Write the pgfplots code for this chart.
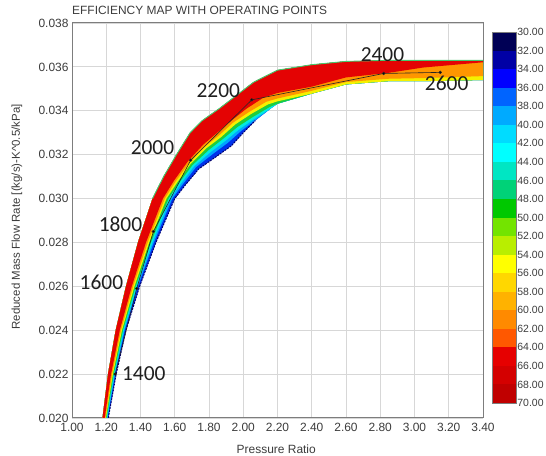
\documentclass[border=0pt]{standalone}
\usepackage{fontspec}
\setmainfont{Liberation Sans}
\newfontfamily\carlito{Carlito}
\usepackage{pgfplots}
\pgfplotsset{compat=1.18}
\usepgfplotslibrary{fillbetween}
\usepackage{pgfplotstable}

\definecolor{gridgray}{RGB}{215,215,215}
\definecolor{framegray}{RGB}{125,125,125}
\definecolor{tickgray}{RGB}{60,60,60}
\definecolor{bBlue}{RGB}{0,50,235}
\definecolor{bNavy}{RGB}{0,0,110}
\definecolor{bLB}{RGB}{0,165,255}
\definecolor{bCy}{RGB}{0,235,225}
\definecolor{bGr}{RGB}{30,205,60}
\definecolor{bYe}{RGB}{245,240,0}
\definecolor{bOr}{RGB}{255,150,0}
\definecolor{bRed}{RGB}{228,3,3}
\definecolor{bFringe}{RGB}{70,200,110}

\definecolor{c1}{RGB}{0,0,85}
\definecolor{c2}{RGB}{0,0,165}
\definecolor{c3}{RGB}{0,0,255}
\definecolor{c4}{RGB}{0,100,255}
\definecolor{c5}{RGB}{0,170,255}
\definecolor{c6}{RGB}{0,220,255}
\definecolor{c7}{RGB}{0,255,255}
\definecolor{c8}{RGB}{0,230,195}
\definecolor{c9}{RGB}{0,210,120}
\definecolor{c10}{RGB}{0,200,0}
\definecolor{c11}{RGB}{115,228,0}
\definecolor{c12}{RGB}{185,238,0}
\definecolor{c13}{RGB}{255,255,0}
\definecolor{c14}{RGB}{255,215,0}
\definecolor{c15}{RGB}{255,178,0}
\definecolor{c16}{RGB}{255,138,0}
\definecolor{c17}{RGB}{255,88,0}
\definecolor{c18}{RGB}{230,0,0}
\definecolor{c19}{RGB}{212,0,0}
\definecolor{c20}{RGB}{192,0,0}

% upper (high-efficiency) edge of the map
\pgfplotstableread{
x y
1.178 0.0200
1.210 0.0220
1.255 0.0240
1.315 0.0260
1.385 0.0280
1.470 0.0300
1.535 0.0310
1.610 0.0320
1.690 0.0330
1.760 0.03355
1.860 0.0341
1.960 0.0347
2.060 0.0353
2.200 0.03585
2.400 0.0361
2.600 0.03625
2.850 0.0363
3.050 0.0363
3.400 0.0363
}\Utab
\pgfplotstableread{
x y
1.470 0.0300
1.535 0.0310
1.610 0.0320
1.690 0.0330
1.760 0.03355
1.860 0.0341
1.960 0.0347
2.060 0.0353
2.200 0.03585
2.400 0.0361
2.600 0.03625
2.850 0.0363
3.050 0.0363
3.400 0.0363
}\UGtab
% lower edge of the map
\pgfplotstableread{
x y
1.212 0.0200
1.258 0.0220
1.315 0.0240
1.395 0.0260
1.490 0.0280
1.600 0.0300
1.660 0.0306
1.740 0.03135
1.840 0.0319
1.930 0.0324
2.000 0.0330
2.070 0.03355
2.160 0.0341
2.200 0.03432
2.400 0.03478
2.600 0.0352
2.850 0.03535
3.050 0.03535
3.400 0.0354
}\Ltab
\pgfplotstableread{
x y
1.212 0.0200
1.258 0.0220
1.315 0.0240
1.395 0.0260
1.490 0.0280
1.600 0.0300
1.660 0.0306
1.740 0.03135
1.840 0.0319
1.930 0.0324
2.000 0.0330
2.070 0.03355
}\LNtab
% contour: 64 %
\pgfplotstableread{
x y
1.191 0.0200
1.228 0.0220
1.279 0.0240
1.349 0.0260
1.432 0.0280
1.531 0.0300
1.595 0.03081
1.675 0.03168
1.765 0.03245
1.845 0.03298
1.930 0.03355
2.018 0.03409
2.118 0.03460
2.200 0.03481
2.400 0.03510
2.600 0.03552
2.850 0.03573
3.050 0.03597
3.400 0.03621
}\Bred
% contour: 58 %
\pgfplotstableread{
x y
1.195 0.0200
1.234 0.0220
1.286 0.0240
1.357 0.0260
1.442 0.0280
1.542 0.0300
1.605 0.03078
1.684 0.03163
1.776 0.03237
1.859 0.03288
1.941 0.03346
2.033 0.03394
2.134 0.03441
2.200 0.03456
2.400 0.03491
2.600 0.03531
2.850 0.03546
3.050 0.03549
3.400 0.03558
}\Bor
% contour: 54 %
\pgfplotstableread{
x y
1.198 0.0200
1.239 0.0220
1.292 0.0240
1.365 0.0260
1.451 0.0280
1.552 0.0300
1.615 0.03074
1.693 0.03158
1.786 0.03230
1.871 0.03280
1.952 0.03337
2.043 0.03384
2.144 0.03429
2.200 0.03443
2.400 0.03478
2.600 0.0352
2.850 0.03535
3.050 0.03535
3.400 0.0354
}\Bye
% contour: 46 %
\pgfplotstableread{
x y
1.202 0.0200
1.244 0.0220
1.298 0.0240
1.372 0.0260
1.461 0.0280
1.564 0.0300
1.625 0.03071
1.704 0.03153
1.798 0.03221
1.882 0.03272
1.966 0.03326
2.055 0.03371
2.154 0.03417
2.200 0.03432
2.400 0.03478
2.600 0.0352
2.850 0.03535
3.050 0.03535
3.400 0.0354
}\Bgr
% contour: 40 %
\pgfplotstableread{
x y
1.205 0.0200
1.248 0.0220
1.303 0.0240
1.379 0.0260
1.470 0.0280
1.575 0.0300
1.636 0.03068
1.714 0.03148
1.810 0.03212
1.896 0.03263
1.979 0.03317
2.063 0.03362
2.160 0.0341
2.200 0.03432
2.400 0.03478
2.600 0.0352
2.850 0.03535
3.050 0.03535
3.400 0.0354
}\Bcy
% contour: 36 %
\pgfplotstableread{
x y
1.208 0.0200
1.252 0.0220
1.308 0.0240
1.385 0.0260
1.478 0.0280
1.586 0.0300
1.646 0.03064
1.724 0.03143
1.822 0.03203
1.910 0.03254
1.989 0.03309
2.069 0.03356
2.160 0.0341
2.200 0.03432
2.400 0.03478
2.600 0.0352
2.850 0.03535
3.050 0.03535
3.400 0.0354
}\Blb
% operating points
\pgfplotstableread{
x y
1.252 0.0220
1.378 0.0259
1.475 0.0285
1.693 0.03175
2.050 0.0345
2.820 0.0357
3.150 0.03575
}\OPtab

\begin{document}
\begin{tikzpicture}
\begin{axis}[
  at={(72bp,38bp)}, anchor=south west,
  scale only axis, width=411bp, height=395bp,
  xmin=1, xmax=3.4, ymin=0.020, ymax=0.038,
  xtick={1.0,1.2,1.4,1.6,1.8,2.0,2.2,2.4,2.6,2.8,3.0,3.2,3.4},
  ytick={0.020,0.022,0.024,0.026,0.028,0.030,0.032,0.034,0.036,0.038},
  scaled x ticks=false, scaled y ticks=false,
  tick label style={font=\fontsize{12}{14}\selectfont, text=tickgray},
  xticklabel style={yshift=-1.5bp, /pgf/number format/.cd, fixed, fixed zerofill, precision=2},
  yticklabel style={/pgf/number format/.cd, fixed, fixed zerofill, precision=3},
  /pgf/number format/assume math mode=true,
  grid=major, major grid style={draw=gridgray, line width=0.8bp},
  major tick length=0pt,
  axis line style={draw=framegray, line width=1bp},
  title={EFFICIENCY MAP WITH OPERATING POINTS},
  title style={at={(0,1)}, anchor=base west, yshift=2.5bp, inner sep=0pt,
    font=\fontsize{12}{14}\selectfont, text=tickgray},
  xlabel={Pressure Ratio},
  xlabel style={at={(axis description cs:0.497,-0.0911)}, anchor=base, inner sep=0pt,
    font=\fontsize{12}{14}\selectfont, text=tickgray},
  ylabel={Reduced Mass Flow Rate [(kg/s)-K\textasciicircum 0.5/kPa]},
  ylabel style={at={(axis description cs:-0.1338,0.509)}, anchor=center, inner sep=0pt,
    font=\fontsize{11.5}{14}\selectfont, text=tickgray},
]
\addplot[draw=none, no markers, name path=U] table {\Utab};
\addplot[draw=none, no markers, name path=L] table {\Ltab};
\addplot[draw=none, no markers, name path=Blb] table {\Blb};
\addplot[draw=none, no markers, name path=Bcy] table {\Bcy};
\addplot[draw=none, no markers, name path=Bgr] table {\Bgr};
\addplot[draw=none, no markers, name path=Bye] table {\Bye};
\addplot[draw=none, no markers, name path=Bor] table {\Bor};
\addplot[draw=none, no markers, name path=Bred] table {\Bred};

\addplot[draw=none, fill=bBlue] fill between[of=U and L];
\addplot[draw=none, fill=bLB] fill between[of=U and Blb];
\addplot[draw=none, fill=bCy] fill between[of=U and Bcy];
\addplot[draw=none, fill=bGr] fill between[of=U and Bgr];
\addplot[draw=none, fill=bYe] fill between[of=U and Bye];
\addplot[draw=none, fill=bOr] fill between[of=U and Bor];
\addplot[draw=none, fill=bRed] fill between[of=U and Bred];

\addplot[bNavy, line width=1bp, dash pattern=on 2bp off 1bp, no markers] table {\LNtab};
\addplot[bFringe, line width=0.9bp, no markers] table {\UGtab};

\addplot[black!85, line width=0.6bp, mark=*, mark size=1.3bp, mark options={fill=black}] table {\OPtab};

\begin{scope}[every node/.style={font=\carlito\fontsize{21.5}{24}\selectfont, text=black!88, inner sep=0pt}]
\node at (axis cs:1.419,0.02200) {1400};
\node at (axis cs:1.172,0.02617) {1600};
\node at (axis cs:1.283,0.02883) {1800};
\node at (axis cs:1.470,0.03232) {2000};
\node at (axis cs:1.854,0.03493) {2200};
\node at (axis cs:2.813,0.03656) {2400};
\node at (axis cs:3.188,0.03526) {2600};
\end{scope}
\end{axis}

% colour scale
\begin{axis}[
  at={(492bp,53bp)}, anchor=south west,
  scale only axis, width=24bp, height=371bp,
  xmin=0, xmax=1, ymin=30, ymax=70, y dir=reverse,
  xtick=\empty, ytick={30,32,...,70},
  yticklabel pos=right,
  tick label style={font=\fontsize{10.5}{12}\selectfont, text=tickgray},
  yticklabel style={inner sep=1.2bp, /pgf/number format/.cd, fixed, fixed zerofill, precision=2},
  /pgf/number format/assume math mode=true,
  major tick length=0pt,
  axis line style={draw=framegray, line width=0.6bp},
  axis on top,
]
\addplot[draw=none, fill=c1] coordinates {(0,30) (1,30) (1,32) (0,32)} -- cycle;
\addplot[draw=none, fill=c2] coordinates {(0,32) (1,32) (1,34) (0,34)} -- cycle;
\addplot[draw=none, fill=c3] coordinates {(0,34) (1,34) (1,36) (0,36)} -- cycle;
\addplot[draw=none, fill=c4] coordinates {(0,36) (1,36) (1,38) (0,38)} -- cycle;
\addplot[draw=none, fill=c5] coordinates {(0,38) (1,38) (1,40) (0,40)} -- cycle;
\addplot[draw=none, fill=c6] coordinates {(0,40) (1,40) (1,42) (0,42)} -- cycle;
\addplot[draw=none, fill=c7] coordinates {(0,42) (1,42) (1,44) (0,44)} -- cycle;
\addplot[draw=none, fill=c8] coordinates {(0,44) (1,44) (1,46) (0,46)} -- cycle;
\addplot[draw=none, fill=c9] coordinates {(0,46) (1,46) (1,48) (0,48)} -- cycle;
\addplot[draw=none, fill=c10] coordinates {(0,48) (1,48) (1,50) (0,50)} -- cycle;
\addplot[draw=none, fill=c11] coordinates {(0,50) (1,50) (1,52) (0,52)} -- cycle;
\addplot[draw=none, fill=c12] coordinates {(0,52) (1,52) (1,54) (0,54)} -- cycle;
\addplot[draw=none, fill=c13] coordinates {(0,54) (1,54) (1,56) (0,56)} -- cycle;
\addplot[draw=none, fill=c14] coordinates {(0,56) (1,56) (1,58) (0,58)} -- cycle;
\addplot[draw=none, fill=c15] coordinates {(0,58) (1,58) (1,60) (0,60)} -- cycle;
\addplot[draw=none, fill=c16] coordinates {(0,60) (1,60) (1,62) (0,62)} -- cycle;
\addplot[draw=none, fill=c17] coordinates {(0,62) (1,62) (1,64) (0,64)} -- cycle;
\addplot[draw=none, fill=c18] coordinates {(0,64) (1,64) (1,66) (0,66)} -- cycle;
\addplot[draw=none, fill=c19] coordinates {(0,66) (1,66) (1,68) (0,68)} -- cycle;
\addplot[draw=none, fill=c20] coordinates {(0,68) (1,68) (1,70) (0,70)} -- cycle;
\end{axis}
\pgfresetboundingbox
\path[use as bounding box] (0,0) rectangle (546bp,456bp);
\end{tikzpicture}
\end{document}
